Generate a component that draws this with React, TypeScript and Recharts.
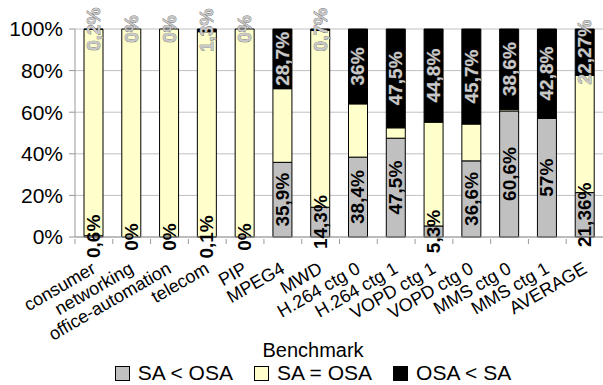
import { BarChart, Bar, XAxis, YAxis, CartesianGrid, Legend, LabelList } from 'recharts'

const FONT = '"Liberation Sans", Arial, sans-serif'

const benchmarks = [
    'consumer', 'networking', 'office-automation', 'telecom', 'PIP', 'MPEG4', 'MWD',
    'H.264 ctg 0', 'H.264 ctg 1', 'VOPD ctg 1', 'VOPD ctg 0', 'MMS ctg 0', 'MMS ctg 1', 'AVERAGE',
]
// share of runs per outcome, in %
const saLessOsa = [0.6, 0, 0, 0.1, 0, 35.9, 14.3, 38.4, 47.5, 5.3, 36.6, 60.6, 57, 21.36]
const saEqualOsa = [99.2, 100, 100, 98.6, 100, 35.4, 85, 25.6, 5, 49.9, 17.7, 0.8, 0.2, 56.37]
const osaLessSa = [0.2, 0, 0, 1.3, 0, 28.7, 0.7, 36, 47.5, 44.8, 45.7, 38.6, 42.8, 22.27]
const yTicks = [0, 20, 40, 60, 80, 100]

const seriesNames = ['SA < OSA', 'SA = OSA', 'OSA < SA']
const seriesColors = ['#c0c0c0', '#ffffcc', '#000000']

const data = benchmarks.map((name, i) => ({
    name,
    lt: saLessOsa[i],
    eq: saEqualOsa[i],
    gt: osaLessSa[i],
}))

const PLOT_LEFT = 75
const PLOT_RIGHT = 604
const BAND = (PLOT_RIGHT - PLOT_LEFT) / benchmarks.length

const pct = (v: number) => `${String(v).replace('.', ',')}%`

function CategoryTick(props: any) {
    const { x, y, payload } = props
    const ax = x + 3
    const ay = y + 33
    return (
        <g>
            <line x1={x - BAND / 2} x2={x - BAND / 2} y1={y} y2={y + 5} stroke="#999" />
            <text
                x={ax}
                y={ay}
                transform={`rotate(-30 ${ax} ${ay})`}
                textAnchor="end"
                fontSize={18}
                fontFamily={FONT}
                fill="#000"
            >
                {payload.value}
            </text>
        </g>
    )
}

// The zero-height segments get no labels of their own, so both outer labels
// hang off the middle (SA = OSA) segment, which is never empty.
function outerLabel(side: 'below' | 'above') {
    return (props: any) => {
        const vb = props.viewBox ?? props
        const i = props.index
        const x = Number(vb.x)
        const y = Number(vb.y)
        const w = Number(vb.width)
        const h = Number(vb.height)
        const perPct = h / saEqualOsa[i]
        const value = side === 'below' ? saLessOsa[i] : osaLessSa[i]
        const cx = x + w / 2
        const cy = side === 'below' ? y + h + (value * perPct) / 2 : y - (value * perPct) / 2
        const color = side === 'below' ? '#000' : '#c8c8c8'
        return (
            <text
                x={cx}
                y={cy}
                transform={`rotate(-90 ${cx} ${cy})`}
                textAnchor="middle"
                dominantBaseline="central"
                fontSize={19}
                fontWeight="bold"
                fontFamily={FONT}
                fill={color}
                stroke={side === 'below' ? 'none' : '#555'}
                strokeWidth={0.6}
                paintOrder="stroke"
            >
                {pct(value)}
            </text>
        )
    }
}

function BenchmarkLegend() {
    return (
        <div style={{ fontFamily: FONT, color: '#000', textAlign: 'center', width: 420 }}>
            <div style={{ fontSize: 20, lineHeight: '22px', height: 22 }}>Benchmark</div>
            <div style={{ display: 'flex', justifyContent: 'center', gap: 21, fontSize: 21, lineHeight: '22px', marginTop: 1 }}>
                {seriesNames.map((n, i) => (
                    <span key={n} style={{ display: 'flex', alignItems: 'center' }}>
                        <span
                            style={{
                                display: 'inline-block',
                                width: 13,
                                height: 13,
                                background: seriesColors[i],
                                border: '1px solid #000',
                                marginRight: 8,
                            }}
                        />
                        {n}
                    </span>
                ))}
            </div>
        </div>
    )
}

export default function App() {
    return (
        <div style={{ position: 'absolute', left: 0, top: 0, width: 603, height: 385, overflow: 'hidden', background: '#fff' }}>
            <BarChart
                width={620}
                height={385}
                data={data}
                margin={{ top: 29, right: 620 - PLOT_RIGHT, bottom: 48, left: 0 }}
                barSize={19}
            >
                <CartesianGrid vertical={false} stroke="#c0c0c0" />
                <XAxis
                    dataKey="name"
                    interval={0}
                    height={100}
                    tickSize={0}
                    tickLine={false}
                    axisLine={{ stroke: '#999' }}
                    tick={<CategoryTick />}
                />
                <YAxis
                    width={PLOT_LEFT}
                    domain={[0, 100]}
                    ticks={yTicks}
                    tickFormatter={v => `${v}%`}
                    tick={{ fontSize: 21, fill: '#000', fontFamily: FONT }}
                    axisLine={{ stroke: '#999' }}
                    tickLine={{ stroke: '#999' }}
                    tickSize={6}
                    tickMargin={6}
                />
                <Legend
                    layout="horizontal"
                    verticalAlign="middle"
                    align="center"
                    wrapperStyle={{ left: 103, top: 339, width: 420 }}
                    content={<BenchmarkLegend />}
                />
                <Bar dataKey="lt" stackId="s" fill={seriesColors[0]} stroke="#000" isAnimationActive={false} />
                <Bar dataKey="eq" stackId="s" fill={seriesColors[1]} stroke="#000" isAnimationActive={false}>
                    <LabelList content={outerLabel('below')} />
                    <LabelList content={outerLabel('above')} />
                </Bar>
                <Bar dataKey="gt" stackId="s" fill={seriesColors[2]} stroke="#000" isAnimationActive={false} />
            </BarChart>
        </div>
    )
}
